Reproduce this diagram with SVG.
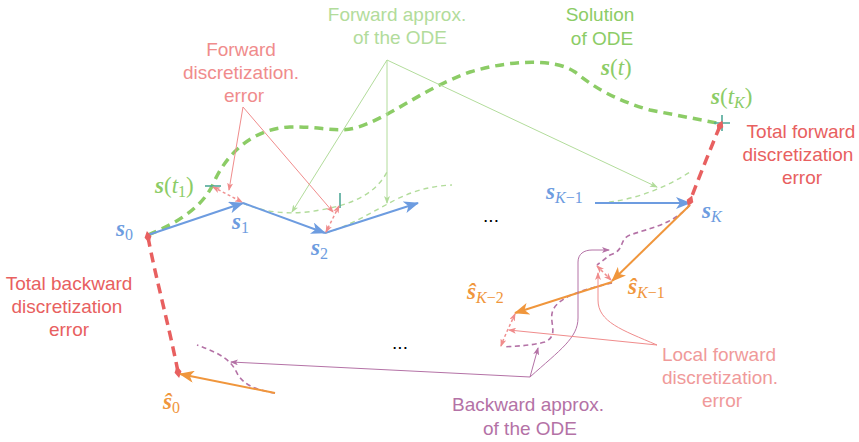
<svg xmlns="http://www.w3.org/2000/svg" width="859" height="442" viewBox="0 0 859 442">
<defs>
<style>
.lbl{font-family:"Liberation Sans",Arial,sans-serif;font-size:19px;text-anchor:middle}
.m{font-family:"Liberation Serif","Times New Roman",serif;font-size:23px}
.b{font-weight:bold;font-style:italic}
.i{font-style:italic}
.sub{font-size:16px}
.blue{stroke:#6d9ce0;stroke-width:2;fill:none}
.orange{stroke:#f0963c;stroke-width:2;fill:none}
.sol{stroke:#8ccc66;stroke-width:3.5;fill:none;stroke-dasharray:9 6}
.fwd{stroke:#b2dc9b;stroke-width:1.4;fill:none;stroke-dasharray:5 4}
.gann{stroke:#b2dc9b;stroke-width:1;fill:none}
.rann{stroke:#f08c8c;stroke-width:1;fill:none}
.pann{stroke:#b472a6;stroke-width:1;fill:none}
.pd{stroke:#b472a6;stroke-width:1.6;fill:none;stroke-dasharray:5 3.5}
.red{stroke:#e86060;stroke-width:3.5;fill:none;stroke-dasharray:10 6}
.loc{stroke:#f09090;stroke-width:1.5;fill:none;stroke-dasharray:3 2.5}
.teal{stroke:#4fa898;stroke-width:1.6;fill:none}
</style>
<marker id="ab" markerUnits="userSpaceOnUse" markerWidth="16" markerHeight="12" refX="14" refY="6" orient="auto"><path d="M0,0 L15,6 L0,12 L4,6 z" fill="#6d9ce0"/></marker>
<marker id="ao" markerUnits="userSpaceOnUse" markerWidth="16" markerHeight="12" refX="14" refY="6" orient="auto"><path d="M0,0 L15,6 L0,12 L4,6 z" fill="#f0963c"/></marker>
<marker id="ag" markerUnits="userSpaceOnUse" markerWidth="8" markerHeight="6" refX="7" refY="3" orient="auto"><path d="M0,0 L8,3 L0,6 L2,3 z" fill="#b2dc9b"/></marker>
<marker id="ar" markerUnits="userSpaceOnUse" markerWidth="8" markerHeight="6" refX="7" refY="3" orient="auto-start-reverse"><path d="M0,0 L8,3 L0,6 L2,3 z" fill="#f08c8c"/></marker>
<marker id="ap" markerUnits="userSpaceOnUse" markerWidth="8" markerHeight="6" refX="7" refY="3" orient="auto"><path d="M0,0 L8,3 L0,6 L2,3 z" fill="#b472a6"/></marker>
<marker id="dm" markerUnits="userSpaceOnUse" markerWidth="12" markerHeight="8" refX="6" refY="4" orient="auto"><path d="M0,4 L6,0.5 L12,4 L6,7.5 z" fill="#e86060"/></marker>
</defs>

<g id="connectors">
<path class="sol" d="M148,235 C180,222 205,205 215,180 C228,152 255,128 290,127 C320,126 335,133 355,128 C390,118 420,90 470,72 C510,60 555,58 575,72 C595,88 615,100 650,110 L722,124"/>
<path class="fwd" d="M243,203 C262,212 290,216 320,210 C350,205 375,195 387,172"/>
<path class="fwd" d="M325,233 C350,226 372,212 395,200 C415,190 432,186 452,185"/>
<path class="fwd" d="M600,203 C630,201 662,190 690,172"/>
<path class="blue" d="M148,235 L243,203" marker-end="url(#ab)"/>
<path class="blue" d="M243,203 L325,233" marker-end="url(#ab)"/>
<path class="blue" d="M325,233 L418,203" marker-end="url(#ab)"/>
<path class="blue" d="M595,203 L690,203" marker-end="url(#ab)"/>
<path class="teal" d="M205,186 H221"/>
<path class="teal" d="M340,193 V208"/>
<path class="teal" d="M714,123 H730 M722,115 V131"/>
<path class="red" d="M720,126 C712,145 700,175 690,201" marker-start="url(#dm)" marker-end="url(#dm)"/>
<path class="red" d="M148,237 C155,275 170,330 178,372" marker-start="url(#dm)" marker-end="url(#dm)"/>
<path class="pd" d="M690,205 C672,225 650,228 630,235 C618,240 626,250 610,255 L597,265"/>
<path class="pd" d="M612,283 C590,288 560,295 553,310 C548,322 560,335 545,342 C530,346 515,346 503,347"/>
<path class="pd" d="M275,393 C255,390 245,385 238,375 C232,362 225,355 197,345"/>
<path class="orange" d="M690,205 L612,281" marker-end="url(#ao)"/>
<path class="orange" d="M612,282 L515,313" marker-end="url(#ao)"/>
<path class="orange" d="M275,393 L180,374" marker-end="url(#ao)"/>
<path class="loc" d="M213,187 L242,202" marker-start="url(#ar)" marker-end="url(#ar)"/>
<path class="loc" d="M339,206 L326,232" marker-start="url(#ar)" marker-end="url(#ar)"/>
<path class="loc" d="M597,266 L611,280" marker-start="url(#ar)" marker-end="url(#ar)"/>
<path class="loc" d="M515,314 C510,325 505,335 501,346" marker-start="url(#ar)" marker-end="url(#ar)"/>
<path class="gann" d="M387,60 L292,212" marker-end="url(#ag)"/>
<path class="gann" d="M387,60 L387,203" marker-end="url(#ag)"/>
<path class="gann" d="M387,60 L657,187" marker-end="url(#ag)"/>
<path class="rann" d="M243,107 L229,190" marker-end="url(#ar)"/>
<path class="rann" d="M243,107 L333,212" marker-end="url(#ar)"/>
<path class="pann" d="M530,377 L231,362" marker-end="url(#ap)"/>
<path class="pann" d="M530,377 L538,348" marker-end="url(#ap)"/>
<path class="pann" d="M530,377 C560,350 578,338 578,318 L578,262 C578,254 584,250 592,250 L609,250" marker-end="url(#ap)"/>
<path class="rann" d="M657,345 L509,330" marker-end="url(#ar)"/>
<path class="rann" d="M657,345 C622,330 598,322 598,300 L598,273" marker-end="url(#ar)"/>
</g>

<g id="label-forward-approx"><text class="lbl" fill="#b2dc9b" x="397" y="21">Forward approx.</text><text class="lbl" fill="#b2dc9b" x="400" y="44">of the ODE</text></g>
<g id="label-solution"><text class="lbl" fill="#8ccc66" x="600" y="21">Solution</text><text class="lbl" fill="#8ccc66" x="602" y="45">of ODE</text></g>
<g id="label-forward-err"><text class="lbl" fill="#f08c8c" x="241" y="56">Forward</text><text class="lbl" fill="#f08c8c" x="241" y="79">discretization.</text><text class="lbl" fill="#f08c8c" x="244" y="102">error</text></g>
<g id="label-total-forward"><text class="lbl" fill="#e86060" x="801" y="138">Total forward</text><text class="lbl" fill="#e86060" x="798" y="161">discretization</text><text class="lbl" fill="#e86060" x="802" y="184">error</text></g>
<g id="label-total-backward"><text class="lbl" fill="#e86060" x="69" y="290">Total backward</text><text class="lbl" fill="#e86060" x="67" y="313">discretization</text><text class="lbl" fill="#e86060" x="69" y="336">error</text></g>
<g id="label-backward-approx"><text class="lbl" fill="#b472a6" x="528" y="411">Backward approx.</text><text class="lbl" fill="#b472a6" x="530" y="435">of the ODE</text></g>
<g id="label-local"><text class="lbl" fill="#f09a9a" x="719" y="361">Local forward</text><text class="lbl" fill="#f09a9a" x="720" y="384">discretization.</text><text class="lbl" fill="#f09a9a" x="722" y="407">error</text></g>

<g id="dots"><text class="lbl" fill="#000" x="491" y="222">...</text><text class="lbl" fill="#000" x="400" y="349">...</text></g>

<g id="s-t1"><text class="m" fill="#8ccc66" x="155" y="193"><tspan class="b">s</tspan>(<tspan class="i">t</tspan><tspan class="sub" dy="4">1</tspan><tspan dy="-4">)</tspan></text></g>
<g id="s-t"><text class="m" fill="#8ccc66" x="601" y="75"><tspan class="b">s</tspan>(<tspan class="i">t</tspan>)</text></g>
<g id="s-tK"><text class="m" fill="#8ccc66" x="711" y="104"><tspan class="b">s</tspan>(<tspan class="i">t</tspan><tspan class="sub i" dy="4">K</tspan><tspan dy="-4">)</tspan></text></g>
<g id="s0"><text class="m" fill="#6d9ce0" x="116" y="236"><tspan class="b">s</tspan><tspan class="sub" dy="4">0</tspan></text></g>
<g id="s1"><text class="m" fill="#6d9ce0" x="232" y="229"><tspan class="b">s</tspan><tspan class="sub" dy="4">1</tspan></text></g>
<g id="s2"><text class="m" fill="#6d9ce0" x="311" y="255"><tspan class="b">s</tspan><tspan class="sub" dy="4">2</tspan></text></g>
<g id="sK1"><text class="m" fill="#6d9ce0" x="546" y="199"><tspan class="b">s</tspan><tspan class="sub" dy="4"><tspan class="i">K</tspan>−1</tspan></text></g>
<g id="sK"><text class="m" fill="#6d9ce0" x="702" y="218"><tspan class="b">s</tspan><tspan class="sub i" dy="4">K</tspan></text></g>
<g id="shK1"><text class="m" fill="#f0963c" x="628" y="294"><tspan class="b">ŝ</tspan><tspan class="sub" dy="4"><tspan class="i">K</tspan>−1</tspan></text></g>
<g id="shK2"><text class="m" fill="#f0963c" x="467" y="299"><tspan class="b">ŝ</tspan><tspan class="sub" dy="4"><tspan class="i">K</tspan>−2</tspan></text></g>
<g id="sh0"><text class="m" fill="#f0963c" x="163" y="409"><tspan class="b">ŝ</tspan><tspan class="sub" dy="4">0</tspan></text></g>
</svg>
